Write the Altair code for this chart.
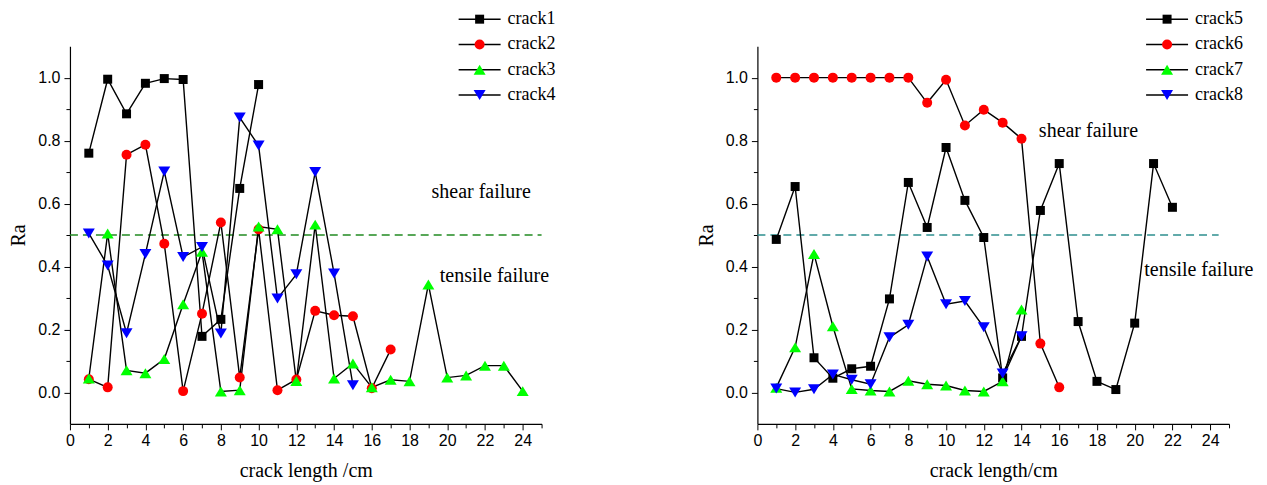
import altair as alt
import pandas as pd

# ---------------- data ----------------
crack_length = [1, 2, 3, 4, 5, 6, 7, 8, 9, 10, 11, 12, 13, 14, 15, 16, 17, 18, 19, 20, 21, 22, 23, 24]

left_names = ["crack1", "crack2", "crack3", "crack4"]
crack1 = [0.760, 0.995, 0.885, 0.982, 0.997, 0.994, 0.178, 0.232, 0.648, 0.978]
crack2 = [0.042, 0.016, 0.755, 0.787, 0.472, 0.004, 0.250, 0.540, 0.047, 0.518,
          0.007, 0.041, 0.259, 0.245, 0.242, 0.013, 0.136]
crack3 = [0.044, 0.505, 0.070, 0.061, 0.106, 0.280, 0.447, 0.003, 0.007, 0.527,
          0.518, 0.036, 0.533, 0.044, 0.092, 0.016, 0.040, 0.035, 0.343, 0.047,
          0.054, 0.085, 0.085, 0.004]
crack4 = [0.505, 0.403, 0.188, 0.440, 0.702, 0.430, 0.462, 0.187, 0.873, 0.784,
          0.298, 0.375, 0.700, 0.378, 0.023]

right_names = ["crack5", "crack6", "crack7", "crack8"]
crack5 = [0.486, 0.654, 0.110, 0.045, 0.075, 0.083, 0.297, 0.667, 0.524, 0.778,
          0.610, 0.492, 0.046, 0.178, 0.578, 0.727, 0.225, 0.035, 0.009, 0.220,
          0.727, 0.588]
crack6 = [1.000, 1.000, 1.000, 1.000, 1.000, 1.000, 1.000, 1.000, 0.920, 0.993,
          0.848, 0.898, 0.857, 0.806, 0.155, 0.016]
crack7 = [0.015, 0.143, 0.440, 0.210, 0.011, 0.006, 0.003, 0.037, 0.026, 0.022,
          0.006, 0.003, 0.035, 0.263]
crack8 = [0.012, 0.000, 0.010, 0.057, 0.040, 0.026, 0.175, 0.215, 0.432, 0.280,
          0.290, 0.207, 0.060, 0.178]

# square, circle, triangle-up, triangle-down (custom paths give Origin-like proportions)
marker_shapes = ["M-0.9,-0.9H0.9V0.9H-0.9Z", "circle",
                 "M0,-1L1.2,1L-1.2,1Z", "M0,1L1.2,-1L-1.2,-1Z"]
marker_colors = ["#000000", "#ff0000", "#00ff00", "#0000ff"]

major_x_ticks = [0, 2, 4, 6, 8, 10, 12, 14, 16, 18, 20, 22, 24]
minor_x_ticks = [1, 3, 5, 7, 9, 11, 13, 15, 17, 19, 21, 23, 25]
major_y_ticks = [0.0, 0.2, 0.4, 0.6, 0.8, 1.0]
minor_y_ticks = [0.1, 0.3, 0.5, 0.7, 0.9]

threshold = 0.5
left_rule_end = 25.0
right_rule_end = 24.45

left_notes_text = ["shear failure", "tensile failure"]
left_notes_x = [21.8, 22.5]
left_notes_y = [0.638, 0.371]
right_notes_text = ["shear failure", "tensile failure"]
right_notes_x = [17.55, 23.4]
right_notes_y = [0.832, 0.39]

SERIF = "Liberation Serif"
SANS = "Liberation Sans"
W, H = 472, 378


def panel(names, values, rule_color, rule_end, notes_text, notes_x, notes_y, xtitle):
    rows = []
    for name, vals in zip(names, values):
        for x, v in zip(crack_length, vals):
            # line_key differs from series so that the two legends are not merged
            rows.append({"length": x, "Ra": v, "series": name, "line_key": name + " "})
    df = pd.DataFrame(rows)
    line_keys = [n + " " for n in names]
    xs = alt.Scale(domain=[0, 25], nice=False, zero=False)
    ys = alt.Scale(domain=[-0.1, 1.1], nice=False, zero=False)

    common_leg = dict(orient="none", legendX=401, legendY=-36, title=None,
                      symbolSize=100, labelFontSize=18, labelFont=SERIF,
                      rowPadding=7.3, labelOffset=19, padding=0, labelColor="black",
                      labelLimit=200)

    line_leg = alt.Legend(symbolType="M-4.2,0H4.2", symbolStrokeWidth=1.4,
                          symbolStrokeColor="black", labelExpr="''", **common_leg)
    point_leg = alt.Legend(symbolStrokeWidth=0, symbolStrokeColor="transparent",
                           symbolOpacity=1, **common_leg)

    base = alt.Chart(df)
    lines = base.mark_line(strokeWidth=1.4).encode(
        x=alt.X("length:Q", scale=xs, axis=None),
        y=alt.Y("Ra:Q", scale=ys, axis=None),
        stroke=alt.Stroke("line_key:N",
                          scale=alt.Scale(domain=line_keys, range=["#000000"] * len(names)),
                          legend=line_leg),
        order=alt.Order("length:Q"),
    )
    points = base.mark_point(filled=True, size=100, opacity=1).encode(
        x=alt.X("length:Q", scale=xs,
                axis=alt.Axis(values=major_x_ticks, format="d", tickSize=6,
                              labelPadding=3, title=xtitle, titlePadding=12,
                              orient="bottom", grid=False, labelFlush=False,
                              labelOverlap=False, domainWidth=1.3)),
        y=alt.Y("Ra:Q", scale=ys,
                axis=alt.Axis(values=major_y_ticks, format=".1f", tickSize=6,
                              labelPadding=4, title="Ra", titlePadding=9,
                              orient="left", grid=False, labelFlush=False,
                              labelOverlap=False, domainWidth=1.2)),
        fill=alt.Fill("series:N", scale=alt.Scale(domain=names, range=marker_colors),
                      legend=point_leg),
        shape=alt.Shape("series:N", scale=alt.Scale(domain=names, range=marker_shapes),
                        legend=point_leg),
    )
    rule_df = pd.DataFrame({"x0": [0.0], "x1": [rule_end], "y": [threshold]})
    rule = alt.Chart(rule_df).mark_rule(strokeDash=[8, 5], color=rule_color,
                                        strokeWidth=1.3).encode(
        x=alt.X("x0:Q", scale=xs,
                axis=alt.Axis(values=minor_x_ticks, labels=False, domain=False,
                              tickSize=4, orient="bottom", title=None, grid=False)),
        x2="x1:Q",
        y=alt.Y("y:Q", scale=ys,
                axis=alt.Axis(values=minor_y_ticks, labels=False, domain=False,
                              tickSize=4, orient="left", title=None, grid=False)),
    )
    notes_df = pd.DataFrame({"x": notes_x, "y": notes_y, "t": notes_text})
    notes = alt.Chart(notes_df).mark_text(font=SERIF, fontSize=20, align="center",
                                          baseline="middle", color="black").encode(
        x=alt.X("x:Q", scale=xs, axis=None),
        y=alt.Y("y:Q", scale=ys, axis=None),
        text="t:N",
    )
    return alt.layer(rule, lines, points, notes).resolve_scale(
        x="independent", y="independent"
    ).resolve_axis(x="independent", y="independent").properties(width=W, height=H)


left = panel(left_names, [crack1, crack2, crack3, crack4], "#228b22", left_rule_end,
             left_notes_text, left_notes_x, left_notes_y, "crack length /cm")
right = panel(right_names, [crack5, crack6, crack7, crack8], "#2e8f8f", right_rule_end,
              right_notes_text, right_notes_x, right_notes_y, "crack length/cm")

chart = alt.hconcat(left, right, spacing=140).resolve_scale(
    fill="independent", shape="independent", stroke="independent"
).resolve_legend(
    fill="independent", shape="independent", stroke="independent"
).properties(
    padding={"left": 0, "top": 2, "right": 5, "bottom": 3}
).configure_view(stroke=None).configure_axis(
    labelFont=SANS, labelFontSize=16, labelColor="black",
    titleFont=SERIF, titleFontSize=20, titleFontWeight="normal", titleColor="black",
    domainColor="black", tickColor="black", tickWidth=1,
)

chart.save("out.html", embed_options={"renderer": "svg", "actions": False})
